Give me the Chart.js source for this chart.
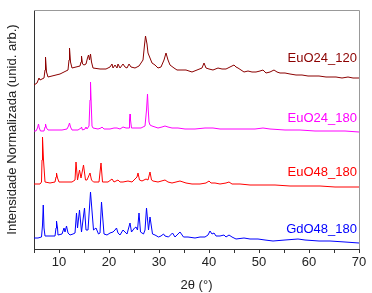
<!DOCTYPE html>
<html>
<head>
<meta charset="utf-8">
<script src="https://cdn.jsdelivr.net/npm/chart.js@4"></script>
<style>
  html, body { margin: 0; padding: 0; background: #fff; }
  #wrap { width: 372px; height: 293px; }
</style>
</head>
<body>
<div id="wrap"><canvas id="xrd"></canvas></div>
<script>
// 2θ (deg) and normalized intensity (arb. units, stacked offsets included)
const euo24_120_x = [5.0, 5.6, 6.0, 6.2, 6.6, 7.0, 7.2, 7.3, 7.5, 7.8, 8.6, 9.4, 10.2, 11.0, 11.8, 12.0, 12.1, 12.3, 12.6, 13.4, 14.2, 14.4, 14.5, 14.7, 15.0, 15.4, 15.7, 15.9, 16.1, 16.3, 16.5, 16.8, 18.2, 19.4, 20.2, 20.6, 20.8, 21.2, 21.6, 21.8, 22.2, 22.8, 23.2, 23.6, 24.0, 24.4, 25.2, 26.0, 26.8, 27.1, 27.3, 27.6, 27.8, 28.2, 28.6, 29.2, 29.8, 30.4, 31.0, 31.4, 31.8, 32.2, 33.0, 33.6, 34.6, 35.4, 36.6, 37.6, 38.6, 39.0, 39.4, 40.0, 40.8, 41.8, 42.6, 43.4, 44.2, 45.0, 45.4, 45.8, 46.4, 47.0, 47.8, 48.6, 49.4, 50.2, 50.8, 51.4, 52.2, 53.0, 53.6, 54.2, 55.2, 56.2, 57.4, 58.6, 59.8, 61.0, 62.0, 63.4, 64.6, 65.4, 66.6, 67.8, 68.8, 70.0]
const euo24_120_y = [164, 166, 171, 169, 170, 171, 179, 192, 177, 172, 173, 174, 175, 177, 179, 189, 201, 187, 181, 182, 183, 187, 193, 185, 184, 185, 191, 194, 189, 195, 187, 181, 180, 180, 182, 185, 181, 184, 181, 185, 181, 185, 182, 181, 185, 182, 181, 183, 189, 204, 213, 205, 196, 191, 186, 184, 181, 182, 189, 196, 189, 184, 181, 179, 179, 179, 177, 179, 181, 186, 181, 180, 179, 181, 180, 180, 182, 184, 182, 181, 179, 177, 178, 177, 177, 178, 179, 176, 177, 179, 177, 176, 176, 175, 174, 174, 173, 173, 173, 172, 172, 172, 171, 172, 171, 171]

const euo24_180_x = [5.0, 5.4, 5.7, 5.9, 6.05, 6.3, 7.0, 7.2, 7.3, 7.5, 7.8, 9.2, 10.6, 11.6, 11.9, 12.1, 12.3, 12.6, 13.8, 14.4, 14.5, 14.7, 15.2, 15.4, 15.6, 16.0, 16.2, 16.3, 16.45, 16.6, 16.8, 17.8, 18.4, 18.6, 19.0, 20.2, 21.0, 21.6, 22.2, 22.8, 23.4, 24.0, 24.1, 24.2, 24.3, 24.5, 25.4, 26.4, 27.2, 27.5, 27.7, 27.85, 28.0, 28.2, 28.6, 29.2, 29.8, 30.6, 31.2, 31.8, 32.6, 33.8, 35.2, 37.2, 39.2, 40.8, 42.2, 44.2, 47.2, 49.2, 50.8, 52.2, 55.2, 58.2, 61.2, 64.2, 67.2, 70.0]
const euo24_180_y = [118, 118, 121, 125, 121, 118, 118, 122, 125, 121, 119, 119, 119, 120, 123, 126, 122, 119, 119, 121, 122, 119, 120, 122, 120, 123, 149, 167, 144, 123, 121, 120, 121, 122, 120, 120, 121, 121, 120, 122, 121, 121, 129, 135, 129, 121, 121, 121, 123, 139, 155, 139, 127, 124, 123, 122, 121, 122, 123, 122, 121, 121, 120, 120, 121, 121, 120, 120, 120, 120, 121, 120, 119, 119, 118, 118, 118, 117]

const euo48_180_x = [5.0, 6.2, 6.5, 6.6, 6.7, 6.9, 7.2, 8.2, 9.2, 9.4, 9.5, 9.7, 10.0, 11.4, 12.6, 13.2, 13.4, 13.7, 14.1, 14.4, 14.9, 15.3, 15.6, 16.2, 16.5, 16.9, 18.0, 18.4, 18.7, 19.8, 20.6, 21.0, 21.8, 22.2, 22.8, 23.8, 24.6, 25.2, 25.6, 25.8, 26.1, 26.6, 27.4, 27.8, 28.2, 28.5, 28.8, 29.8, 31.2, 31.8, 32.6, 34.2, 35.4, 36.6, 38.2, 39.4, 40.0, 40.4, 41.2, 42.2, 43.4, 44.0, 44.6, 46.2, 48.2, 50.6, 53.2, 56.2, 59.2, 62.2, 65.2, 68.2, 70.0]
const euo48_180_y = [65, 65, 67, 89, 112, 89, 67, 66, 67, 72, 76, 71, 67, 67, 67, 69, 87, 69, 79, 71, 84, 69, 69, 76, 69, 67, 67, 86, 67, 67, 70, 67, 69, 67, 67, 68, 67, 70, 72, 76, 69, 68, 70, 69, 77, 69, 68, 67, 69, 67, 66, 68, 66, 65, 65, 66, 68, 66, 66, 65, 66, 67, 65, 65, 64, 64, 64, 63, 63, 63, 62, 62, 62]

const gdo48_180_x = [5.0, 5.8, 6.5, 6.7, 6.85, 7.0, 7.2, 8.2, 9.2, 9.4, 9.5, 9.7, 9.8, 10.6, 11.0, 11.2, 11.5, 11.8, 12.2, 12.8, 13.2, 13.5, 13.7, 14.1, 14.5, 15.1, 15.4, 15.8, 16.3, 16.9, 17.4, 17.9, 18.2, 18.5, 19.0, 19.6, 20.2, 20.8, 21.2, 21.5, 21.8, 22.2, 22.8, 23.2, 23.6, 24.2, 24.5, 25.1, 25.4, 25.7, 26.0, 26.3, 26.9, 27.2, 27.5, 27.9, 28.2, 28.7, 29.2, 29.9, 30.4, 30.9, 31.2, 31.9, 32.7, 33.2, 34.2, 34.9, 35.8, 37.2, 38.2, 39.2, 39.8, 40.2, 40.6, 41.0, 41.4, 42.2, 43.0, 43.4, 44.0, 44.6, 45.4, 47.0, 48.2, 49.8, 51.2, 52.8, 55.2, 57.8, 59.2, 62.0, 64.2, 67.2, 70.0]
const gdo48_180_y = [11, 11, 12, 24, 44, 21, 13, 13, 13, 21, 28, 21, 14, 15, 21, 17, 23, 16, 14, 15, 16, 36, 21, 39, 17, 41, 19, 19, 57, 19, 21, 15, 16, 47, 15, 14, 16, 17, 19, 21, 16, 14, 19, 17, 15, 26, 17, 21, 22, 19, 36, 17, 15, 19, 41, 19, 32, 15, 14, 12, 13, 15, 13, 12, 16, 12, 17, 12, 12, 11, 12, 12, 14, 18, 15, 16, 13, 13, 14, 12, 14, 12, 10, 11, 10, 10, 9, 8, 9, 10, 9, 8, 8, 7, 6]

const seriesNames = ['EuO24_120', 'EuO24_180', 'EuO48_180', 'GdO48_180']
const seriesColors = ['#8b0000', '#ff00ff', '#ff0000', '#0000ff']
const labelX = 69.6
const labelY = [191, 131, 77, 20]

const xs = [euo24_120_x, euo24_180_x, euo48_180_x, gdo48_180_x]
const ys = [euo24_120_y, euo24_180_y, euo48_180_y, gdo48_180_y]

const datasets = seriesNames.map((name, i) => ({
  label: name,
  data: xs[i].map((x, j) => ({ x: x, y: ys[i][j] })),
  borderColor: seriesColors[i],
  borderWidth: 1,
  pointRadius: 0,
  tension: 0,
  fill: false,
}))

// gray frame on top/right plus the series names
const framePlugin = {
  id: 'frameAndNames',
  afterDraw(chart) {
    const { ctx, chartArea, scales } = chart
    ctx.save()
    ctx.strokeStyle = '#999'
    ctx.lineWidth = 1
    ctx.beginPath()
    ctx.moveTo(chartArea.left, chartArea.top + 0.5)
    ctx.lineTo(chartArea.right + 0.5, chartArea.top + 0.5)
    ctx.lineTo(chartArea.right + 0.5, chartArea.bottom)
    ctx.stroke()

    ctx.font = '13px "Liberation Sans", Arial, sans-serif'
    ctx.textAlign = 'right'
    ctx.textBaseline = 'middle'
    seriesNames.forEach((name, i) => {
      ctx.fillStyle = seriesColors[i]
      ctx.fillText(name, scales.x.getPixelForValue(labelX), scales.y.getPixelForValue(labelY[i]))
    })
    ctx.restore()
  }
}

const font = { family: '"Liberation Sans", Arial, sans-serif', size: 13 }

new Chart(document.getElementById('xrd'), {
  type: 'line',
  data: { datasets: datasets },
  options: {
    responsive: true,
    maintainAspectRatio: false,
    animation: false,
    layout: { padding: { top: 10, right: 13, left: 0, bottom: 0 } },
    plugins: {
      legend: { display: false },
      tooltip: { enabled: false },
    },
    scales: {
      x: {
        type: 'linear',
        min: 5,
        max: 70,
        afterFit(scale) { scale.height = 44 },
        border: { color: '#333' },
        grid: {
          drawOnChartArea: false,
          drawTicks: true,
          tickLength: 4,
          color: '#333',
        },
        ticks: {
          stepSize: 5,
          color: '#222',
          font: font,
          padding: 2,
          maxRotation: 0,
          callback: function(value) {
            return value % 10 === 0 ? value : ''
          }
        },
        title: {
          display: true,
          text: '2θ (°)',
          color: '#222',
          font: font,
          padding: 0,
        }
      },
      y: {
        min: 0,
        max: 239,
        afterFit(scale) { scale.width = 34 },
        border: { color: '#333' },
        grid: { display: false },
        ticks: { display: false },
        title: {
          display: true,
          text: 'Intensidade Normalizada (unid. arb.)',
          color: '#222',
          font: font,
          padding: { top: 5, bottom: 0 },
        }
      }
    }
  },
  plugins: [framePlugin]
})
</script>
</body>
</html>
